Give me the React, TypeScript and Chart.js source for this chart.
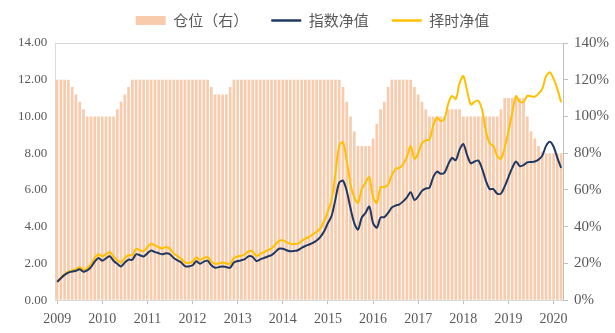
import React, { useEffect, useRef } from 'react';
import { Chart, registerables } from 'chart.js';

Chart.register(...registerables);

// Monthly categories: 2009-01 .. 2020-03
const startYear = 2009;
const monthCount = 135;
const months: string[] = [];
for (let k = 0; k < monthCount; k++) {
  const y = startYear + Math.floor(k / 12);
  const m = (k % 12) + 1;
  months.push(`${y}-${m < 10 ? '0' + m : m}`);
}

const seriesNames = ['指数净值', '择时净值', '仓位（右）'];

// 指数净值 (left axis)
const indexNav: number[] = [
  1.00, 1.20, 1.38, 1.50, 1.56, 1.60, 1.68, 1.55, 1.62, 1.80, 2.10, 2.30,
  2.15, 2.28, 2.39, 2.15, 1.98, 1.84, 2.05, 2.21, 2.20, 2.50, 2.45, 2.38,
  2.55, 2.71, 2.62, 2.56, 2.50, 2.55, 2.50, 2.30, 2.17, 2.05, 1.86, 1.84,
  1.90, 2.12, 1.99, 2.10, 2.15, 1.90, 1.77, 1.80, 1.84, 1.80, 1.77, 2.05,
  2.13, 2.17, 2.25, 2.40, 2.35, 2.13, 2.22, 2.30, 2.38, 2.45, 2.62, 2.80,
  2.80, 2.72, 2.66, 2.68, 2.72, 2.85, 2.95, 3.03, 3.12, 3.25, 3.45, 3.75,
  4.20, 4.60, 5.50, 6.40, 6.50, 5.95, 5.00, 4.20, 3.85, 4.50, 4.75, 5.10,
  4.20, 3.95, 4.50, 4.52, 4.75, 5.05, 5.15, 5.22, 5.38, 5.60, 5.88, 5.45,
  5.65, 5.95, 6.08, 6.12, 6.70, 7.00, 6.88, 6.95, 7.40, 7.74, 7.62, 8.20,
  8.50, 7.90, 7.45, 7.55, 7.60, 7.15, 6.50, 6.05, 6.05, 5.80, 5.80, 6.20,
  6.70, 7.20, 7.55, 7.30, 7.35, 7.50, 7.52, 7.55, 7.65, 7.87, 8.40, 8.62,
  8.35, 7.75, 7.20,
];

// 择时净值 (left axis)
const timingNav: number[] = [
  1.00, 1.22, 1.42, 1.55, 1.62, 1.68, 1.80, 1.65, 1.75, 1.95, 2.30, 2.50,
  2.38, 2.50, 2.62, 2.38, 2.18, 2.05, 2.30, 2.45, 2.45, 2.80, 2.72, 2.68,
  2.88, 3.07, 2.98, 2.88, 2.82, 2.90, 2.80, 2.55, 2.40, 2.25, 2.06, 2.03,
  2.10, 2.32, 2.20, 2.30, 2.35, 2.10, 1.98, 2.00, 2.05, 2.00, 1.98, 2.28,
  2.38, 2.42, 2.50, 2.68, 2.65, 2.40, 2.52, 2.62, 2.72, 2.82, 3.02, 3.24,
  3.26, 3.15, 3.07, 3.06, 3.08, 3.22, 3.35, 3.45, 3.58, 3.72, 3.92, 4.30,
  4.85, 5.50, 6.90, 8.40, 8.60, 7.60, 6.30, 5.60, 5.30, 6.05, 6.40, 6.70,
  5.60, 5.30, 6.15, 6.15, 6.30, 6.80, 7.15, 7.20, 7.40, 7.80, 8.41, 7.70,
  8.00, 8.55, 8.70, 8.75, 9.50, 9.95, 9.75, 9.90, 10.70, 11.12, 10.95, 11.80,
  12.20, 11.40, 10.65, 10.80, 10.85, 10.35, 9.20, 8.55, 8.40, 7.85, 7.70, 8.30,
  9.20, 10.20, 11.10, 10.80, 10.80, 11.12, 11.10, 11.08, 11.25, 11.50, 12.20, 12.40,
  12.05, 11.50, 10.77,
];

// 仓位（右）in percent (right axis)
const position: number[] = [
  120, 120, 120, 120, 116, 112, 108, 104, 100, 100, 100, 100,
  100, 100, 100, 100, 104, 108, 112, 116, 120, 120, 120, 120,
  120, 120, 120, 120, 120, 120, 120, 120, 120, 120, 120, 120,
  120, 120, 120, 120, 120, 116, 112, 112, 112, 112, 116, 120,
  120, 120, 120, 120, 120, 120, 120, 120, 120, 120, 120, 120,
  120, 120, 120, 120, 120, 120, 120, 120, 120, 120, 120, 120,
  120, 120, 120, 120, 116, 108, 100, 92, 84, 84, 84, 84,
  88, 96, 104, 108, 116, 120, 120, 120, 120, 120, 120, 116,
  112, 108, 104, 100, 100, 100, 100, 100, 104, 104, 104, 104,
  100, 100, 100, 100, 100, 100, 100, 100, 100, 100, 104, 110,
  110, 110, 110, 110, 110, 100, 92, 88, 84, 81, 80, 80,
  80, 80, 80,
];

const leftTicksMax = 14;
const rightTicksMax = 140;

const colors = {
  index: '#1F3864',
  timing: '#FFC000',
  bar: '#F8CBAD',
  text: '#595959',
  axis: '#D9D9D9',
  axisRight: '#BFBFBF',
};

const numFont = "'Liberation Serif', 'Times New Roman', serif";
const cjkFont = "'Noto Sans CJK SC', 'Noto Sans', sans-serif";

// Adds a little room between the legend and the plot area
const legendGap = {
  id: 'legendGap',
  beforeInit(chart: any) {
    const legend = chart.legend;
    if (!legend) return;
    const origFit = legend.fit;
    legend.fit = function fit() {
      origFit.call(this);
      this.height += 5;
    };
  },
};

export default function App() {
  const ref = useRef<HTMLCanvasElement | null>(null);

  useEffect(() => {
    if (!ref.current) return;
    const legendRank: Record<number, number> = { 2: 0, 0: 1, 1: 2 };
    const chart = new Chart(ref.current, {
      type: 'bar',
      data: {
        labels: months,
        datasets: [
          {
            type: 'line',
            label: seriesNames[0],
            data: indexNav,
            borderColor: colors.index,
            backgroundColor: colors.index,
            borderWidth: 2,
            pointRadius: 0,
            tension: 0.3,
            yAxisID: 'y',
          } as any,
          {
            type: 'line',
            label: seriesNames[1],
            data: timingNav,
            borderColor: colors.timing,
            backgroundColor: colors.timing,
            borderWidth: 2,
            pointRadius: 0,
            tension: 0.3,
            yAxisID: 'y',
          } as any,
          {
            type: 'bar',
            label: seriesNames[2],
            data: position,
            backgroundColor: colors.bar,
            borderWidth: 0,
            barPercentage: 0.72,
            categoryPercentage: 1,
            yAxisID: 'y1',
          } as any,
        ],
      },
      plugins: [legendGap],
      options: {
        animation: false,
        responsive: true,
        maintainAspectRatio: false,
        layout: { padding: { left: 10, right: 0, top: -10, bottom: -2 } },
        plugins: {
          tooltip: { enabled: false },
          legend: {
            position: 'top',
            align: 'center',
            labels: {
              usePointStyle: true,
              pointStyleWidth: 30,
              boxHeight: 9,
              padding: 23,
              color: colors.text,
              font: { family: cjkFont, size: 15 },
              sort: (a: any, b: any) => legendRank[a.datasetIndex] - legendRank[b.datasetIndex],
              generateLabels: (c: any) => {
                const items = (Chart.defaults.plugins.legend.labels as any).generateLabels(c);
                return items.map((it: any) => ({
                  ...it,
                  pointStyle: it.datasetIndex === 2 ? 'rect' : 'line',
                  lineWidth: it.datasetIndex === 2 ? 0 : 2.5,
                }));
              },
            },
          },
        },
        scales: {
          x: {
            offset: true,
            grid: {
              offset: false,
              drawOnChartArea: false,
              drawTicks: true,
              tickLength: 4,
              color: (ctx: any) => (ctx.index % 12 === 0 ? colors.axisRight : 'rgba(0,0,0,0)'),
            },
            border: { display: true, color: colors.axis },
            ticks: {
              autoSkip: false,
              maxRotation: 0,
              minRotation: 0,
              color: colors.text,
              font: { family: numFont, size: 14 },
              padding: 7,
              callback: (_v: any, i: number) => (i % 12 === 0 ? months[i].slice(0, 4) : ''),
            },
          },
          y: {
            position: 'left',
            min: 0,
            max: leftTicksMax,
            ticks: {
              stepSize: 2,
              color: colors.text,
              font: { family: numFont, size: 13 },
              padding: 8,
              callback: (v: any) => Number(v).toFixed(2),
            },
            grid: {
              drawTicks: false,
              color: (ctx: any) => (ctx.tick && ctx.tick.value === leftTicksMax ? colors.axis : 'rgba(0,0,0,0)'),
            },
            border: { display: true, color: colors.axis },
          },
          y1: {
            position: 'right',
            min: 0,
            max: rightTicksMax,
            ticks: {
              stepSize: 20,
              color: colors.text,
              font: { family: numFont, size: 15 },
              padding: 6,
              callback: (v: any) => `${v}%`,
            },
            grid: {
              drawOnChartArea: false,
              drawTicks: true,
              tickLength: 5,
              color: colors.axisRight,
            },
            border: { display: true, color: colors.axisRight },
          },
        },
      } as any,
    });
    return () => chart.destroy();
  }, []);

  return (
    <div style={{ position: 'fixed', left: 0, top: 0, width: 615, height: 333, background: '#fff' }}>
      <canvas ref={ref} />
    </div>
  );
}
